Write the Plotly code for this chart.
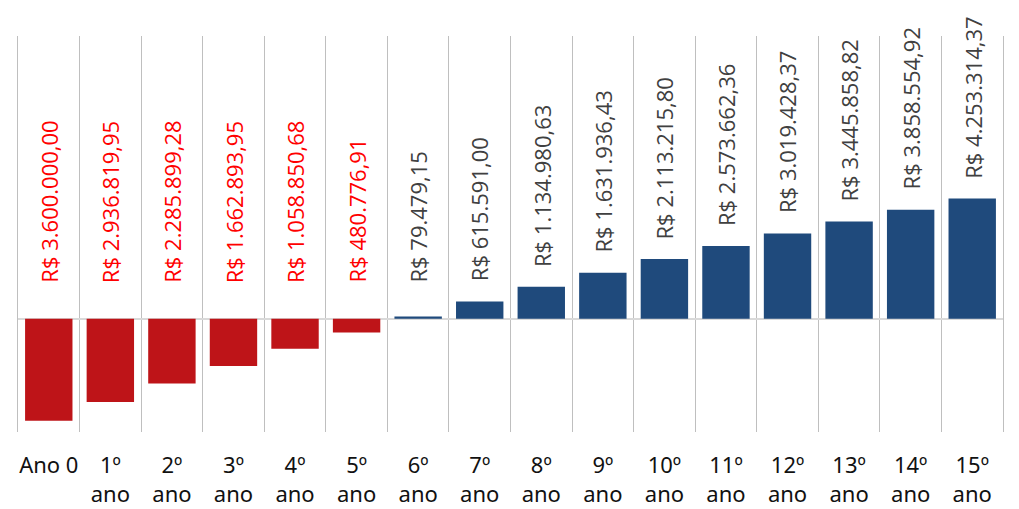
import plotly.graph_objects as go

categories = ["Ano 0", "1º<br>ano", "2º<br>ano", "3º<br>ano", "4º<br>ano", "5º<br>ano",
              "6º<br>ano", "7º<br>ano", "8º<br>ano", "9º<br>ano", "10º<br>ano",
              "11º<br>ano", "12º<br>ano", "13º<br>ano", "14º<br>ano", "15º<br>ano"]
values = [-3600000.00, -2936819.95, -2285899.28, -1662893.95, -1058850.68, -480776.91,
          79479.15, 615591.00, 1134980.63, 1631936.43, 2113215.80, 2573662.36,
          3019428.37, 3445858.82, 3858554.92, 4253314.37]

RED = "#BE1418"
BLUE = "#1F4A7C"
Y_RANGE = [-4000000, 10000000]
PLOT_H = 396
k = PLOT_H / (Y_RANGE[1] - Y_RANGE[0])  # px per unit


def brl(v):
    s = f"{abs(v):,.2f}"
    s = s.replace(",", "X").replace(".", ",").replace("X", ".")
    return "R$ " + s


colors = [RED if v < 0 else BLUE for v in values]

fig = go.Figure()
fig.add_trace(go.Bar(
    x=categories, y=values, marker=dict(color=colors, line=dict(width=0)),
    width=0.77, hoverinfo="skip"))

for c, v in zip(categories, values):
    ylab = max(max(v, 0) + 18 / k, 34 / k)
    fig.add_annotation(
        x=c, y=ylab, text=brl(v), textangle=-90, showarrow=False,
        xanchor="center", yanchor="bottom",
        font=dict(family="Open Sans", size=22, color="#FF0000" if v < 0 else "#404040"))

fig.update_layout(
    width=1003, height=501,
    margin=dict(l=10, r=8, t=28, b=77),
    paper_bgcolor="white", plot_bgcolor="white",
    showlegend=False, bargap=0.23,
    xaxis=dict(type="category", tickson="boundaries", showgrid=True,
               gridcolor="#BFBFBF", gridwidth=1.3, ticks="", showline=False,
               tickangle=0, automargin=False, ticklabelstandoff=18,
               tickfont=dict(family="Noto Sans", size=22, color="#111111"),
               fixedrange=True),
    yaxis=dict(range=Y_RANGE, showgrid=False, showticklabels=False,
               showline=True, mirror=True, linecolor="#BFBFBF", linewidth=1.3,
               zeroline=True, zerolinecolor="#D9D9D9", zerolinewidth=2,
               automargin=False, fixedrange=True),
)

fig.write_html("out.html")
